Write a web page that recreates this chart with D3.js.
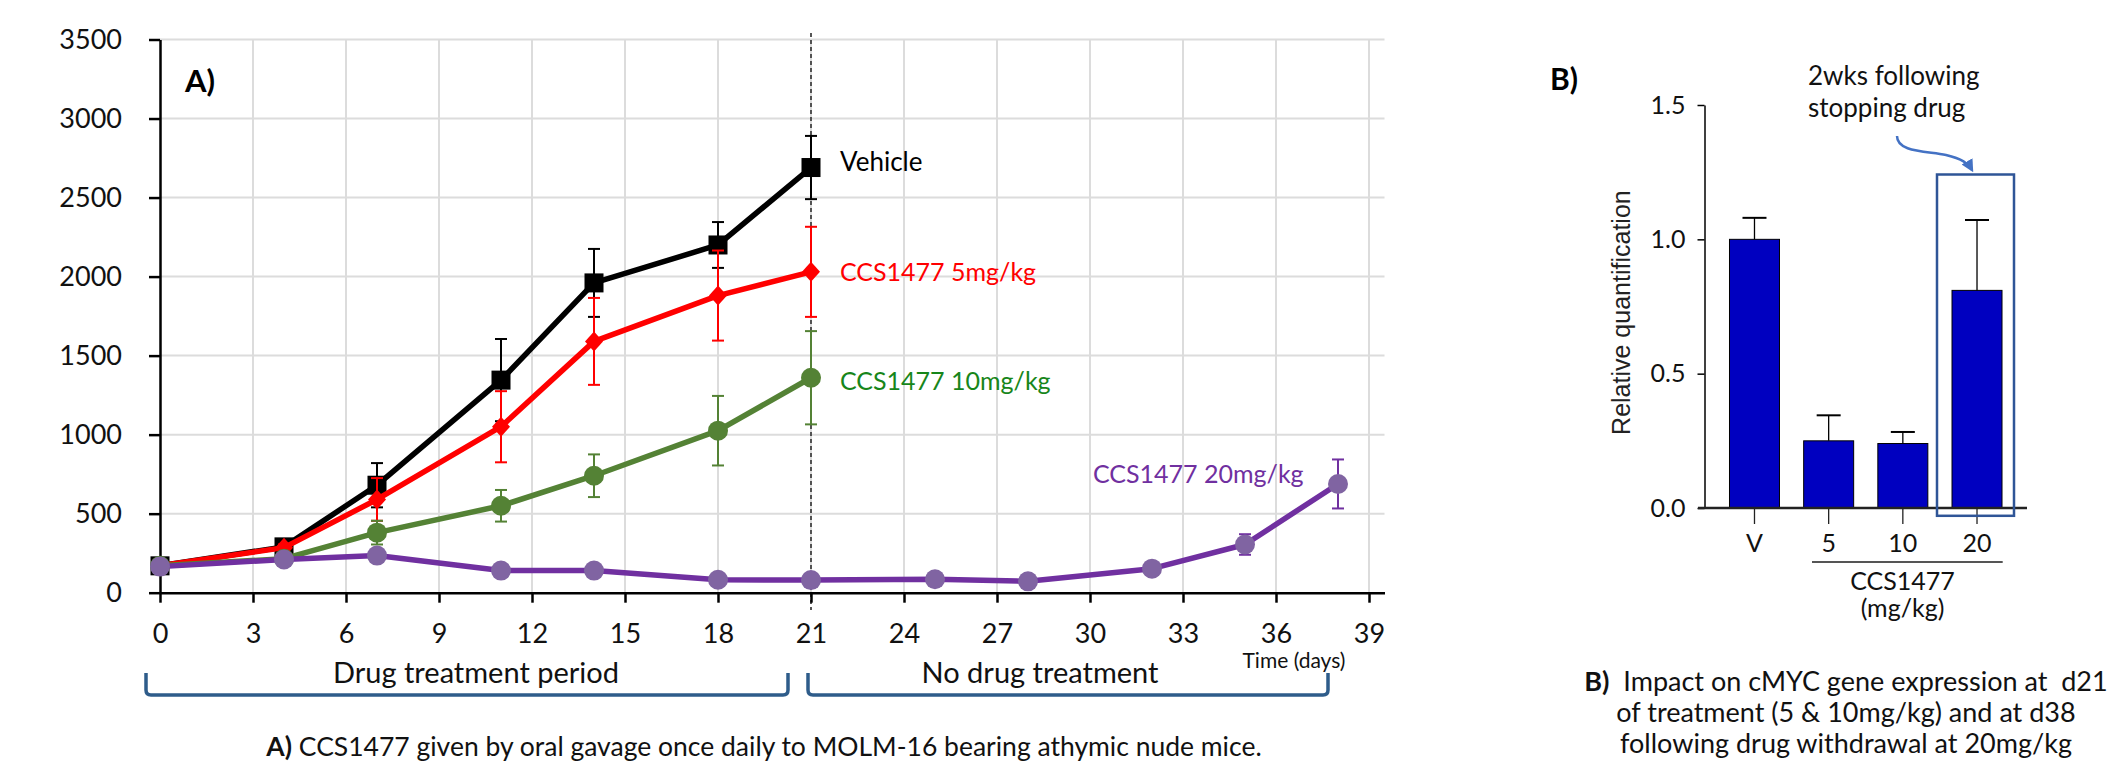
<!DOCTYPE html>
<html lang="en">
<head>
<meta charset="UTF-8">
<title>CCS1477 in MOLM-16 xenograft</title>
<style>
  body { margin: 0; background: #fff; }
  svg text { font-family: Lato, "Open Sans", sans-serif; }
</style>
</head>
<body>
<div id="chart"></div>
<script src="https://d3js.org/d3.v7.min.js"></script>
<script>
// ---- panel A data: tumour volume over time ----
const daysShort = [0, 4, 7, 11, 14, 18, 21];
const daysLong = [0, 4, 7, 11, 14, 18, 21, 25, 28, 32, 35, 38];
const vehicle = [170, 290, 680, 1345, 1960, 2200, 2690];
const vehicleErr = [0, 15, 140, 260, 215, 145, 200];
const dose5 = [170, 285, 590, 1050, 1590, 1880, 2030];
const dose5Err = [0, 20, 135, 225, 275, 285, 285];
const dose10 = [170, 215, 380, 550, 740, 1025, 1360];
const dose10Err = [0, 15, 75, 100, 135, 220, 295];
const dose20 = [165, 210, 235, 140, 140, 82, 80, 85, 72, 152, 305, 688];
const dose20Err = [0, 0, 0, 0, 0, 0, 0, 0, 0, 0, 65, 155];
const xTicks = [0, 3, 6, 9, 12, 15, 18, 21, 24, 27, 30, 33, 36, 39];
const yTicks = [0, 500, 1000, 1500, 2000, 2500, 3000, 3500];

// ---- panel B data: cMYC expression ----
const groups = ["V", "5", "10", "20"];
const cmyc = [1.0, 0.25, 0.24, 0.81];
const cmycErr = [0.08, 0.095, 0.043, 0.262];
const bTicks = [0, 0.5, 1.0, 1.5];

const width = 2113, height = 764;

const svg = d3.select('#chart')
    .append('svg')
    .attr('width', width)
    .attr('height', height)
    .attr('viewBox', [0, 0, width, height]);

// ================= Panel A =================
const x = d3.scaleLinear().domain([0, 39.5]).range([160, 160 + 39.5 * 31]);
const y = d3.scaleLinear().domain([0, 3500]).range([592.7, 39.5]);

const grid = svg.append('g').attr('stroke', '#dcdcdc').attr('stroke-width', 2);
grid.selectAll('.vg')
    .data(xTicks.filter(d => d > 0))
    .join('line')
    .attr('x1', d => x(d)).attr('x2', d => x(d))
    .attr('y1', y(3500)).attr('y2', y(0));
grid.selectAll('.hg')
    .data(yTicks.filter(d => d > 0))
    .join('line')
    .attr('x1', x(0)).attr('x2', x(39.5))
    .attr('y1', d => y(d)).attr('y2', d => y(d));

// end of treatment marker
svg.append('line')
    .attr('x1', x(21)).attr('x2', x(21))
    .attr('y1', 33).attr('y2', 610)
    .attr('stroke', '#444')
    .attr('stroke-width', 1.8)
    .attr('stroke-dasharray', '4,3');

function xAxis(g) {
    g.attr('transform', `translate(0,${y(0)})`)
        .call(d3.axisBottom(x).tickValues(xTicks).tickSize(10).tickPadding(21).tickSizeOuter(0))
        .attr('font-size', '27px')
        .attr('font-family', 'Lato');
    g.select('.domain').attr('stroke', '#000').attr('stroke-width', 2.5);
    g.selectAll('.tick line').attr('stroke', '#000').attr('stroke-width', 2.5);
    g.selectAll('.tick text').attr('fill', '#111');
}
function yAxis(g) {
    g.attr('transform', `translate(${x(0)},0)`)
        .call(d3.axisLeft(y).tickValues(yTicks).tickFormat(d3.format('d')).tickSize(11).tickPadding(27).tickSizeOuter(0))
        .attr('font-size', '27px')
        .attr('font-family', 'Lato');
    g.select('.domain').attr('stroke', '#000').attr('stroke-width', 2.5);
    g.selectAll('.tick line').attr('stroke', '#000').attr('stroke-width', 2.5);
    g.selectAll('.tick text').attr('fill', '#111');
}
svg.append('g').call(yAxis);
svg.append('g').call(xAxis);

const series = [
    { days: daysShort, vals: vehicle, err: vehicleErr, line: '#000', mark: '#000', bar: '#000', shape: 'square',
      label: 'Vehicle', lx: 840, ly: 171, lc: '#000', fs: 26 },
    { days: daysShort, vals: dose5, err: dose5Err, line: '#ff0000', mark: '#ff0000', bar: '#ff0000', shape: 'diamond',
      label: 'CCS1477 5mg/kg', lx: 840, ly: 281, lc: '#ff0000', fs: 25 },
    { days: daysShort, vals: dose10, err: dose10Err, line: '#548235', mark: '#548235', bar: '#548235', shape: 'circle',
      label: 'CCS1477 10mg/kg', lx: 840, ly: 390, lc: '#17861a', fs: 25 },
    { days: daysLong, vals: dose20, err: dose20Err, line: '#7030a0', mark: '#8064a2', bar: '#7030a0', shape: 'circle',
      label: 'CCS1477 20mg/kg', lx: 1093, ly: 483, lc: '#7030a0', fs: 25 }
];

const line = d3.line().x(d => x(d[0])).y(d => y(d[1]));

series.forEach(s => {
    const pts = s.days.map((d, i) => [d, s.vals[i], s.err[i]]);
    const g = svg.append('g');
    g.append('path')
        .datum(pts)
        .attr('d', line)
        .attr('fill', 'none')
        .attr('stroke', s.line)
        .attr('stroke-width', 5.5)
        .attr('stroke-linejoin', 'round');

    const eb = g.append('g').attr('stroke', s.bar).attr('stroke-width', 2);
    const withErr = pts.filter(p => p[2] > 0);
    eb.selectAll('.ev').data(withErr).join('line')
        .attr('x1', p => x(p[0])).attr('x2', p => x(p[0]))
        .attr('y1', p => y(p[1] + p[2])).attr('y2', p => y(p[1] - p[2]));
    eb.selectAll('.et').data(withErr).join('line')
        .attr('x1', p => x(p[0]) - 6).attr('x2', p => x(p[0]) + 6)
        .attr('y1', p => y(p[1] + p[2])).attr('y2', p => y(p[1] + p[2]));
    eb.selectAll('.eb').data(withErr).join('line')
        .attr('x1', p => x(p[0]) - 6).attr('x2', p => x(p[0]) + 6)
        .attr('y1', p => y(p[1] - p[2])).attr('y2', p => y(p[1] - p[2]));

    const m = g.selectAll('.mk').data(pts);
    if (s.shape === 'square') {
        m.join('rect')
            .attr('x', p => x(p[0]) - 9.5).attr('y', p => y(p[1]) - 9.5)
            .attr('width', 19).attr('height', 19)
            .attr('fill', s.mark);
    } else if (s.shape === 'diamond') {
        m.join('path')
            .attr('d', p => `M${x(p[0])},${y(p[1]) - 10}l9,10l-9,10l-9,-10z`)
            .attr('fill', s.mark);
    } else {
        m.join('circle')
            .attr('cx', p => x(p[0])).attr('cy', p => y(p[1]))
            .attr('r', 10)
            .attr('fill', s.mark);
    }

    svg.append('text')
        .attr('x', s.lx).attr('y', s.ly)
        .attr('font-size', s.fs + 'px')
        .attr('fill', s.lc)
        .text(s.label);
});

svg.append('text')
    .attr('x', 185).attr('y', 92)
    .attr('font-size', '31px').attr('font-weight', 'bold')
    .text('A)');

// treatment period brackets
const bracketColor = '#2e5c8a';
function bracket(x1, x2) {
    svg.append('path')
        .attr('d', `M${x1},673 L${x1},690 Q${x1},695 ${x1 + 5},695 L${x2 - 5},695 Q${x2},695 ${x2},690 L${x2},673`)
        .attr('fill', 'none')
        .attr('stroke', bracketColor)
        .attr('stroke-width', 3.5);
}
bracket(146, 788);
bracket(808, 1328);

svg.append('text').attr('x', 476).attr('y', 683).attr('text-anchor', 'middle')
    .attr('font-size', '29px').attr('fill', '#111').text('Drug treatment period');
svg.append('text').attr('x', 1040).attr('y', 683).attr('text-anchor', 'middle')
    .attr('font-size', '29px').attr('fill', '#111').text('No drug treatment');
svg.append('text').attr('x', 1294).attr('y', 668).attr('text-anchor', 'middle')
    .attr('font-size', '21px').attr('fill', '#111').text('Time (days)');

const capA = svg.append('text').attr('x', 764).attr('y', 756).attr('text-anchor', 'middle')
    .attr('font-size', '26.5px').attr('fill', '#111');
capA.append('tspan').attr('font-weight', 'bold').text('A)');
capA.append('tspan').text(' CCS1477 given by oral gavage once daily to MOLM-16 bearing athymic nude mice.');

// ================= Panel B =================
const xb = d3.scaleBand().domain(groups).range([1717.4, 2014.1]).paddingInner(0.326).paddingOuter(0.163);
const yb = d3.scaleLinear().domain([0, 1.5]).range([508, 105]);

svg.append('g')
    .attr('fill', '#0000c0')
    .attr('stroke', '#000')
    .attr('stroke-width', 1)
    .selectAll('rect')
    .data(cmyc)
    .join('rect')
    .attr('x', (d, i) => xb(groups[i]))
    .attr('y', d => yb(d))
    .attr('width', xb.bandwidth())
    .attr('height', d => yb(0) - yb(d));

const ebB = svg.append('g').attr('stroke', '#000').attr('stroke-width', 1.3);
ebB.selectAll('.v').data(cmyc).join('line')
    .attr('x1', (d, i) => xb(groups[i]) + xb.bandwidth() / 2)
    .attr('x2', (d, i) => xb(groups[i]) + xb.bandwidth() / 2)
    .attr('y1', d => yb(d))
    .attr('y2', (d, i) => yb(d + cmycErr[i]));
ebB.selectAll('.c').data(cmyc).join('line')
    .attr('x1', (d, i) => xb(groups[i]) + xb.bandwidth() / 2 - 12)
    .attr('x2', (d, i) => xb(groups[i]) + xb.bandwidth() / 2 + 12)
    .attr('y1', (d, i) => yb(d + cmycErr[i]))
    .attr('y2', (d, i) => yb(d + cmycErr[i]))
    .attr('stroke-width', 2);

const yAxB = svg.append('g')
    .attr('transform', 'translate(1704.5,0)')
    .call(d3.axisLeft(yb).tickValues(bTicks).tickFormat(d3.format('.1f')).tickSize(7).tickPadding(12).tickSizeOuter(0))
    .attr('font-size', '25px').attr('font-family', 'Lato');
yAxB.select('.domain').attr('stroke', '#000').attr('stroke-width', 1.5);
yAxB.selectAll('.tick line').attr('stroke', '#000').attr('stroke-width', 1.5);
yAxB.selectAll('.tick text').attr('fill', '#111');

const xAxB = svg.append('g')
    .attr('transform', `translate(0,${yb(0)})`)
    .call(d3.axisBottom(xb).tickSize(16).tickPadding(10).tickSizeOuter(0))
    .attr('font-size', '25px').attr('font-family', 'Lato');
xAxB.select('.domain').attr('d', 'M1698,0H2027').attr('stroke', '#222').attr('stroke-width', 2.5);
xAxB.selectAll('.tick line').attr('stroke', '#222').attr('stroke-width', 1.3);
xAxB.selectAll('.tick text').attr('fill', '#111');

// highlight box around the 20 mg/kg bar
svg.append('rect')
    .attr('x', 1937).attr('y', 174.5)
    .attr('width', 77).attr('height', 341.3)
    .attr('fill', 'none')
    .attr('stroke', '#2f5597')
    .attr('stroke-width', 2.5);

svg.append('defs').append('marker')
    .attr('id', 'arrow')
    .attr('viewBox', '0 0 10 10')
    .attr('refX', 8).attr('refY', 5)
    .attr('markerWidth', 5).attr('markerHeight', 5)
    .attr('orient', 'auto')
    .append('path')
    .attr('d', 'M0,0L10,5L0,10z')
    .attr('fill', '#4472c4');

svg.append('path')
    .attr('d', 'M1897,136 C1897,152 1925,151 1946,155 C1962,159 1968,163 1972,170')
    .attr('fill', 'none')
    .attr('stroke', '#4472c4')
    .attr('stroke-width', 2.5)
    .attr('marker-end', 'url(#arrow)');

svg.append('text').attr('x', 1808).attr('y', 85).attr('font-size', '26px').attr('fill', '#111').text('2wks following');
svg.append('text').attr('x', 1808).attr('y', 117).attr('font-size', '26px').attr('fill', '#111').text('stopping drug');

svg.append('text')
    .attr('x', 1550).attr('y', 90)
    .attr('font-size', '30px').attr('font-weight', 'bold')
    .text('B)');

svg.append('text')
    .attr('transform', 'translate(1630,312.6) rotate(-90)')
    .attr('text-anchor', 'middle')
    .attr('font-size', '25px')
    .style('font-family', '"Liberation Sans", Arial, sans-serif')
    .attr('fill', '#222')
    .text('Relative quantification');

svg.append('line')
    .attr('x1', 1812).attr('x2', 2002.7)
    .attr('y1', 562).attr('y2', 562)
    .attr('stroke', '#555').attr('stroke-width', 2);
svg.append('text').attr('x', 1902.5).attr('y', 590).attr('text-anchor', 'middle')
    .attr('font-size', '25px').attr('fill', '#111').text('CCS1477');
svg.append('text').attr('x', 1902.5).attr('y', 617).attr('text-anchor', 'middle')
    .attr('font-size', '25px').attr('fill', '#111').text('(mg/kg)');

const capB = [
    ['B)', '  Impact on cMYC gene expression at  d21'],
    ['', 'of treatment (5 & 10mg/kg) and at d38'],
    ['', 'following drug withdrawal at 20mg/kg']
];
capB.forEach((c, i) => {
    const t = svg.append('text')
        .attr('x', 1846).attr('y', 691 + i * 31)
        .attr('text-anchor', 'middle')
        .attr('font-size', '27px')
        .attr('fill', '#111')
        .attr('xml:space', 'preserve')
        .style('white-space', 'pre');
    if (c[0]) t.append('tspan').attr('font-weight', 'bold').text(c[0]);
    t.append('tspan').text(c[1]);
});
</script>
</body>
</html>
